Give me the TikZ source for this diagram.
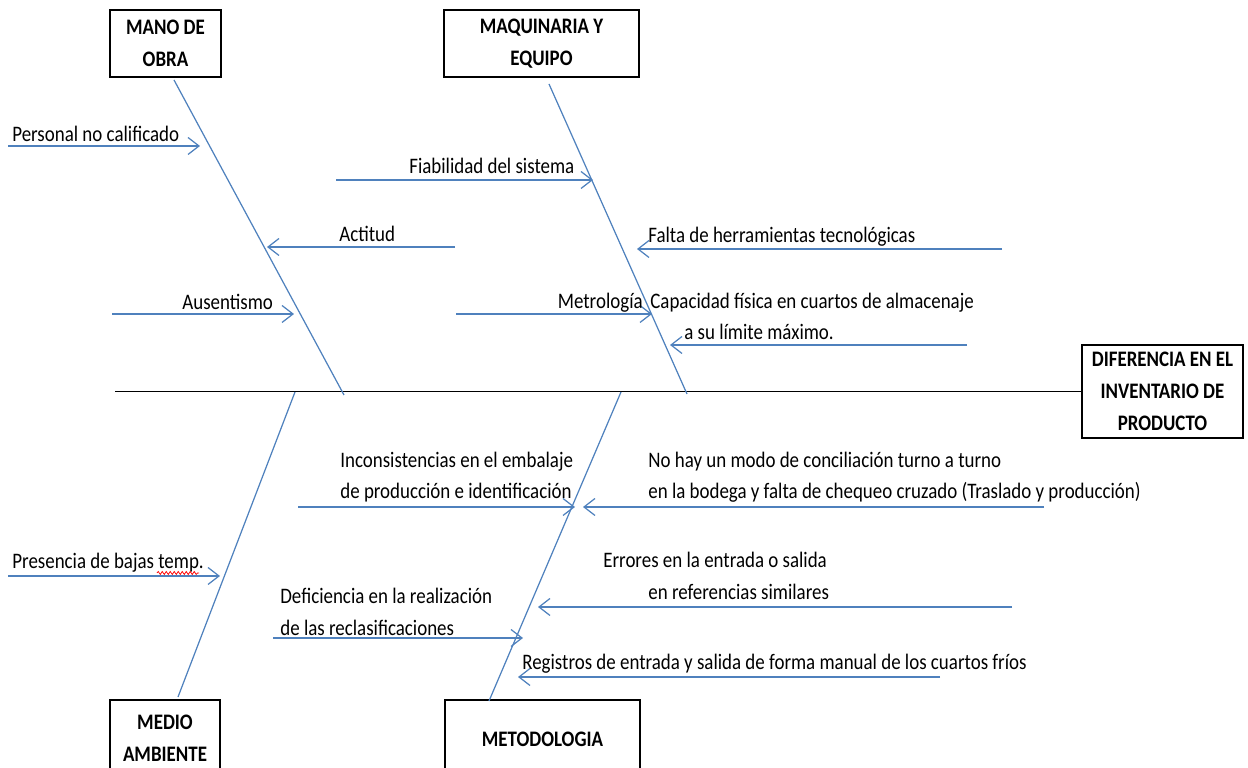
\documentclass[tikz,border=0pt]{standalone}
\usepackage{fontspec}
\setmainfont{Carlito}[FakeStretch=0.855]
\usetikzlibrary{arrows.meta, decorations.pathmorphing}
\definecolor{bone}{HTML}{4F81BD}

\begin{document}
\begin{tikzpicture}[
  catbox/.style={draw, line width=0.8pt, inner sep=0pt, align=center,
                 font=\fontsize{12.6}{18.2}\selectfont\bfseries},
  cause/.style={bone, line width=0.7pt, -{Straight Barb[length=2.2mm, width=3.4mm]}},
  bonel/.style={bone, line width=0.7pt},
  spine/.style={line width=0.9pt},
  label/.style={inner sep=0pt, align=left, font=\fontsize{12.6}{18.2}\selectfont},
]
\useasboundingbox (0, 0) rectangle (24.960, 15.360);
\clip (0, 0) rectangle (24.960, 15.360);

\node[catbox, minimum width=22.2mm, minimum height=13.4mm] (mano) at (3.310, 14.490) {MANO DE\\OBRA};
\node[catbox, minimum width=39mm, minimum height=13.4mm] (maq) at (10.830, 14.490) {MAQUINARIA Y\\EQUIPO};
\node[catbox, minimum width=22mm, minimum height=15.2mm] (medio) at (3.300, 0.600) {MEDIO\\AMBIENTE};
\node[catbox, minimum width=39mm, minimum height=15.6mm] (meto) at (10.850, 0.580) {METODOLOGIA};
\node[catbox, minimum width=32.2mm, minimum height=18.6mm] (head) at (23.250, 7.530) {DIFERENCIA EN EL\\INVENTARIO DE\\PRODUCTO};

\coordinate (tail) at (2.300, 7.530);
\coordinate (mo1) at (3.480, 13.760);
\coordinate (mo2) at (6.880, 7.460);
\coordinate (mq1) at (10.980, 13.680);
\coordinate (mq2) at (13.740, 7.480);
\coordinate (ma1) at (5.900, 7.520);
\coordinate (ma2) at (3.560, 1.420);
\coordinate (me1) at (12.420, 7.520);
\coordinate (me2) at (9.780, 1.340);

\draw[spine] (tail) -- (head);
\draw[bonel] (mo1) -- (mo2);
\draw[bonel] (mq1) -- (mq2);
\draw[bonel] (ma1) -- (ma2);
\draw[bonel] (me1) -- (me2);

\coordinate (pnc1) at (0.160, 12.440);
\coordinate (pnc2) at (4.000, 12.440);
\coordinate (act1) at (9.100, 10.420);
\coordinate (act2) at (5.340, 10.420);
\coordinate (aus1) at (2.240, 9.080);
\coordinate (aus2) at (5.880, 9.080);
\coordinate (fia1) at (6.720, 11.760);
\coordinate (fia2) at (11.860, 11.760);
\coordinate (fal1) at (20.040, 10.380);
\coordinate (fal2) at (12.740, 10.380);
\coordinate (met1) at (9.120, 9.080);
\coordinate (met2) at (13.040, 9.080);
\coordinate (cap1) at (19.340, 8.460);
\coordinate (cap2) at (13.400, 8.460);
\coordinate (pre1) at (0.160, 3.840);
\coordinate (pre2) at (4.400, 3.840);
\coordinate (inc1) at (5.960, 5.220);
\coordinate (inc2) at (11.500, 5.220);
\coordinate (noh1) at (20.880, 5.220);
\coordinate (noh2) at (11.660, 5.220);
\coordinate (err1) at (20.240, 3.220);
\coordinate (err2) at (10.760, 3.220);
\coordinate (def1) at (5.460, 2.600);
\coordinate (def2) at (10.460, 2.600);
\coordinate (reg1) at (18.800, 1.820);
\coordinate (reg2) at (10.360, 1.820);

\draw[cause] (pnc1) -- (pnc2);
\draw[cause] (act1) -- (act2);
\draw[cause] (aus1) -- (aus2);
\draw[cause] (fia1) -- (fia2);
\draw[cause] (fal1) -- (fal2);
\draw[cause] (met1) -- (met2);
\draw[cause] (cap1) -- (cap2);
\draw[cause] (pre1) -- (pre2);
\draw[cause] (inc1) -- (inc2);
\draw[cause] (noh1) -- (noh2);
\draw[cause] (err1) -- (err2);
\draw[cause] (def1) -- (def2);
\draw[cause] (reg1) -- (reg2);

\node[label, anchor=base west] (pnc) at (0.240, 12.520) {Personal no calificado};
\node[label, anchor=base west] (act) at (6.780, 10.520) {Actitud};
\node[label, anchor=base west] (aus) at (3.640, 9.160) {Ausentismo};
\node[label, anchor=base west] (fia) at (8.180, 11.880) {Fiabilidad del sistema};
\node[label, anchor=base west] (fal) at (12.960, 10.500) {Falta de herramientas tecnológicas};
\node[label, anchor=base east] (met) at (12.860, 9.180) {Metrología};
\node[label, anchor=base west] (cap) at (13.000, 8.560) {Capacidad física en cuartos de almacenaje\\\hspace*{0.68cm}a su límite máximo.};
\node[label, anchor=base west] (pre) at (0.240, 3.980) {Presencia de bajas temp.};
\node[label, anchor=base west] (inc) at (6.800, 5.380) {Inconsistencias en el embalaje\\de producción e identificación};
\node[label, anchor=base west] (noh) at (12.960, 5.380) {No hay un modo de conciliación turno a turno\\en la bodega y falta de chequeo cruzado (Traslado y producción)};
\node[label, anchor=base west] (err) at (12.060, 3.370) {Errores en la entrada o salida\\\hspace*{0.9cm}en referencias similares};
\node[label, anchor=base west] (def) at (5.600, 2.650) {Deficiencia en la realización\\de las reclasificaciones};
\node[label, anchor=base west] (reg) at (10.440, 1.960) {Registros de entrada y salida de forma manual de los cuartos fríos};

\draw[red, line width=0.4pt, decorate, decoration={snake, amplitude=0.3mm, segment length=0.8mm}]
  (3.140, 3.900) -- (3.980, 3.900);

\end{tikzpicture}
\end{document}
